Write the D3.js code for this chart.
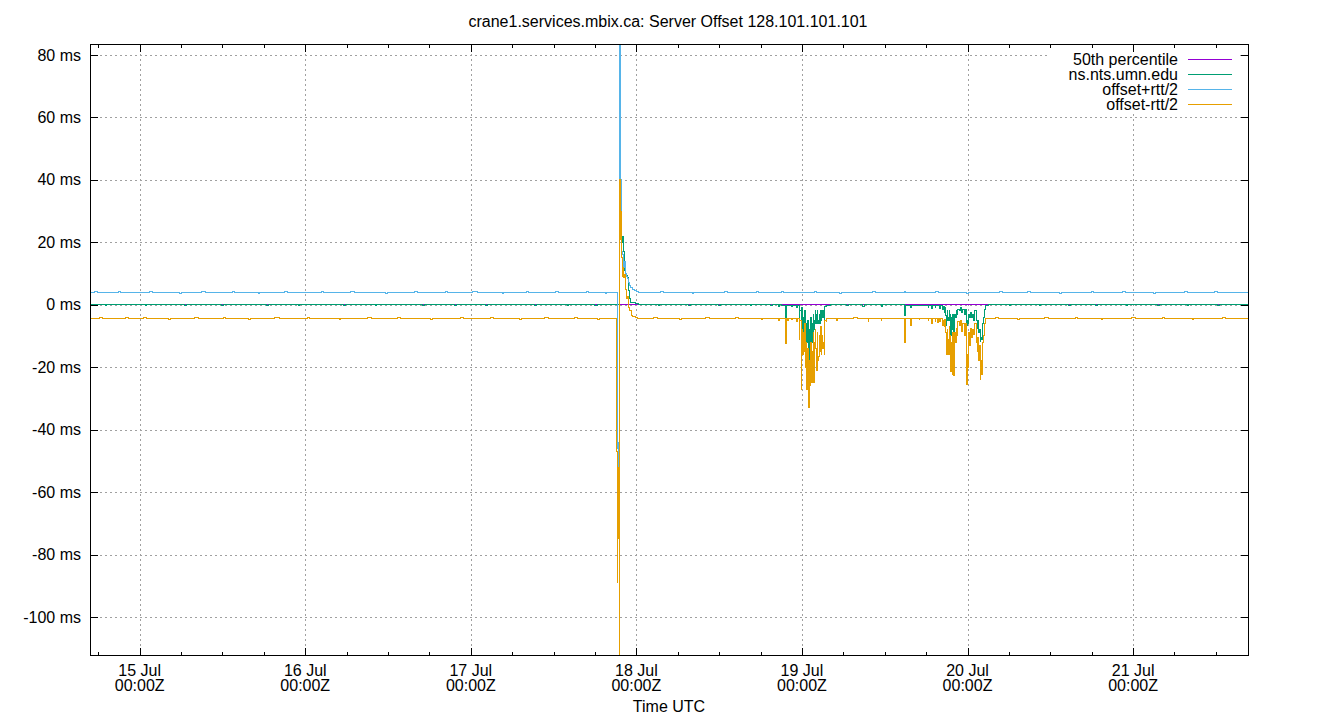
<!DOCTYPE html>
<html><head><meta charset="utf-8">
<script src="https://cdn.jsdelivr.net/npm/d3@7"></script>
<style>
body{margin:0;background:#fff}
text{font-family:"Liberation Sans",Arial,sans-serif;fill:#000}
</style>
</head><body><svg id="chart" width="1340" height="720"></svg>
<script>
// ---------------- data (hours since 15 Jul 00:00Z, offset in ms) ----------------
const chartTitle = "crane1.services.mbix.ca: Server Offset 128.101.101.101";
const xAxisTitle = "Time UTC";
const seriesNames = ["50th percentile", "ns.nts.umn.edu", "offset+rtt/2", "offset-rtt/2"];
const seriesColors = ["#9400d3", "#009e73", "#56b4e9", "#e69f00"];
const hourDomain = [-7.2, 160.8];
const yDomain = [-112.5, 83.5];
const yTicks = [-100, -80, -60, -40, -20, 0, 20, 40, 60, 80];
const xTickHours = [0, 24, 48, 72, 96, 120, 144];
const xTickDays = ["15 Jul", "16 Jul", "17 Jul", "18 Jul", "19 Jul", "20 Jul", "21 Jul"];
const xTickTimes = ["00:00Z", "00:00Z", "00:00Z", "00:00Z", "00:00Z", "00:00Z", "00:00Z"];

const percentile50 = [[-7.2, 0], [160.8, 0]];

const nsNtsUmn = [
  [-7.2,0],[-5.0,-0.3],[-4.8,0],[0.8,-0.3],[1.0,0],[6.5,-0.3],[6.8,0],[11.9,-0.3],[12.1,0],
  [18.4,-0.3],[18.7,0],[23.0,-0.3],[23.2,0],[29.5,-0.3],[29.9,0],[34.2,-0.3],[34.4,0],
  [41.0,-0.3],[41.3,0],[45.7,-0.3],[45.9,0],[50.1,-0.3],[50.4,0],[57.3,-0.3],[57.5,0],
  [62.0,-0.3],[62.2,0],[66.0,-0.3],[66.3,0],
  [69.58,35],[69.75,22],[69.9,20],[70.0,22],[70.12,17],[70.25,11],[70.4,9],[70.55,9.5],[70.7,8.8],
  [70.82,4.5],[70.95,3],[71.05,2],[71.2,0.8],[71.5,0.6],[71.9,0.4],[72.3,0],
  [75.2,-0.3],[75.4,0],[79.6,-0.3],[79.8,0],[83.9,-0.3],[84.2,0],[88.5,-0.3],[88.7,0],[91.5,-0.3],[91.7,0],
  [92.6,-0.5],[92.8,0],[93.1,-0.4],[93.3,-0.2],
  [93.64,-4.3],[93.72,-0.3],[94.5,-0.6],[94.6,-0.2],[95.2,-1],[95.3,-0.3],
  [95.62,-4],[95.7,-2],[95.88,-5],[95.95,-1],[96.05,-8],[96.12,-10.8],[96.2,-4],[96.3,-9],[96.4,-2],
  [96.5,-14],[96.58,-6],[96.66,-10],[96.73,-12],[96.8,-5],[96.9,-13],[96.98,-18],[97.05,-8],[97.12,-12],
  [97.2,-10],[97.3,-4],[97.38,-12],[97.48,-6],[97.55,-9],[97.65,-3],[97.72,-8],[97.82,-5],[97.9,-2],
  [98.0,-6],[98.1,-3],[98.2,-2],[98.3,-6],[98.38,-5],[98.5,-3],[98.6,-6],[98.7,-2],[98.82,-5],[98.9,-2],
  [99.0,-4],[99.1,-2],[99.2,-5],[99.3,-0.5],[99.6,-0.3],[100.2,0],
  [102.5,-0.3],[102.7,0],[104.8,-0.5],[105.0,0],[107.5,-0.5],[107.7,0],
  [110.85,-3.3],[110.95,-0.3],[111.75,-1],[111.85,-0.2],[114.3,-0.8],[114.4,-0.2],[114.8,-1.2],[114.9,-0.2],
  [115.3,-1],[115.4,-0.2],[115.96,-1.2],[116.05,-0.3],
  [116.35,-1.5],[116.45,-0.5],[116.6,-2.5],[116.7,-0.8],[116.8,-3.3],[116.9,-6.5],[116.98,-5],[117.05,-2],
  [117.15,-4],[117.25,-5],[117.35,-2],[117.45,-3],[117.55,-9.7],[117.65,-4],[117.75,-8],[117.85,-3],
  [118.0,-9.7],[118.1,-3],[118.2,-4],[118.35,-2],[118.5,-3],[118.6,-1.5],[118.8,-2],[118.95,-1],
  [119.1,-2.5],[119.25,-1.5],[119.55,-3],[119.65,-1.5],[119.8,-5],[119.9,-6.5],[119.98,-5],[120.08,-6],
  [120.18,-3],[120.3,-4],[120.45,-2.5],[120.55,-4],[120.7,-3],[120.85,-5],[121.0,-2],[121.3,-5],
  [121.4,-7.5],[121.5,-5],[121.6,-9],[121.72,-8],[121.85,-11.8],[121.95,-10.6],[122.05,-11],[122.15,-7],
  [122.22,-6],[122.32,-4],[122.42,-3],[122.5,-1.5],[122.6,-0.2],[123.0,0],
  [126.1,-0.3],[126.3,0],[130.4,-0.3],[130.6,0],[134.7,-0.3],[134.9,0],[138.6,-0.3],[138.9,0],
  [143.0,-0.3],[143.2,0],[147.6,-0.3],[147.8,0],[151.9,-0.3],[152.1,0],[156.3,-0.3],[156.5,0],[160.8,0]
];

const offsetPlusRtt = [
  [-7.2,3.9],[-6.5,4.2],[-6.1,3.9],[-3.1,4.2],[-2.8,3.9],[1.4,4.2],[1.9,3.9],[5.8,3.6],[6.0,3.9],
  [9.0,4.2],[9.6,3.9],[13.5,4.2],[13.8,3.9],[17.2,3.6],[17.4,3.9],[21.0,4.2],[21.5,3.9],
  [26.4,4.2],[26.7,3.9],[30.5,4.2],[31.2,3.9],[35.7,3.6],[35.9,3.9],[39.9,4.2],[40.3,3.9],
  [44.3,4.2],[44.6,3.9],[48.2,4.2],[48.9,3.9],[52.6,3.6],[52.8,3.9],[56.0,4.2],[56.4,3.9],
  [60.3,4.2],[60.7,3.9],[64.8,4.2],[65.1,3.9],[67.5,3.6],[67.7,3.9],
  [69.20,-38],[69.28,-46],[69.36,-52],[69.42,-44],[69.50,95],[69.62,120],[69.72,40],[69.80,24],
  [69.88,17],[70.0,16],[70.12,12],[70.25,14],[70.35,10],[70.5,9],[70.65,8.5],[70.8,7],[71.0,6],
  [71.2,5.5],[71.4,4.8],[71.7,4.5],[72.0,4.2],[72.3,3.9],
  [75.5,4.2],[75.9,3.9],[80.1,3.6],[80.3,3.9],[84.7,4.2],[85.2,3.9],[89.4,4.2],[89.7,3.9],
  [93.0,4.2],[93.3,3.9],[97.8,4.2],[98.1,3.9],[101.5,3.6],[101.7,3.9],[106.2,4.2],[106.6,3.9],
  [110.8,4.2],[111.0,3.9],[115.3,4.2],[115.8,3.9],[119.9,3.6],[120.1,3.9],[124.6,4.2],[125.0,3.9],
  [128.7,4.2],[129.2,3.9],[133.4,3.6],[133.6,3.9],[137.9,4.2],[138.3,3.9],[142.5,4.2],[142.9,3.9],
  [147.0,3.6],[147.2,3.9],[151.4,4.2],[151.9,3.9],[155.8,4.2],[156.2,3.9],[160.8,3.9]
];

const offsetMinusRtt = [
  [-7.2,-4.4],[-5.8,-4.1],[-5.4,-4.4],[-2.0,-4.1],[-1.6,-4.4],[0.5,-4.1],[1.0,-4.4],[4.2,-4.7],[4.4,-4.4],
  [7.9,-4.1],[8.5,-4.4],[12.1,-4.1],[12.4,-4.4],[15.8,-4.7],[16.0,-4.4],[19.6,-4.1],[20.2,-4.4],
  [24.3,-4.1],[24.6,-4.4],[28.9,-4.7],[29.1,-4.4],[33.0,-4.1],[33.6,-4.4],[37.4,-4.1],[37.8,-4.4],
  [42.2,-4.7],[42.4,-4.4],[46.5,-4.1],[47.0,-4.4],[50.8,-4.1],[51.3,-4.4],[55.1,-4.7],[55.3,-4.4],
  [58.7,-4.1],[59.2,-4.4],[63.0,-4.1],[63.5,-4.4],[66.4,-4.7],[66.6,-4.4],
  [69.17,-47],[69.24,-89],[69.28,-60],[69.33,-75],[69.40,-52],[69.46,-70],[69.52,-130],[69.58,40],
  [69.64,25],[69.70,38],[69.76,21],[69.82,30],[69.90,15],[70.0,9],[70.1,12],[70.2,8.6],[70.3,9.6],
  [70.45,5],[70.6,2],[70.75,2.5],[70.9,-1],[71.05,-2],[71.25,-3.4],[71.5,-3.8],[71.8,-4.1],[72.1,-4.4],
  [74.5,-4.1],[75.0,-4.4],[78.3,-4.7],[78.5,-4.4],[82.0,-4.1],[82.6,-4.4],[86.4,-4.1],[86.8,-4.4],
  [90.1,-4.7],[90.3,-4.4],[92.6,-5.0],[92.7,-4.4],
  [93.64,-12.3],[93.72,-4.4],[93.93,-5.2],[94.0,-4.4],[94.5,-4.7],[94.6,-4.4],[95.2,-5.5],[95.3,-4.4],
  [95.62,-11],[95.7,-5],[95.88,-27],[95.95,-8],[96.05,-12],[96.12,-16],[96.2,-9],[96.3,-15],[96.4,-6],
  [96.5,-20],[96.58,-12],[96.66,-17],[96.73,-27],[96.8,-14],[96.9,-27],[96.98,-33],[97.05,-18],
  [97.12,-26],[97.2,-21],[97.3,-12],[97.38,-25],[97.48,-15],[97.55,-22],[97.65,-9],[97.72,-25],
  [97.82,-12],[97.9,-8],[98.0,-14],[98.1,-21],[98.2,-9],[98.3,-18],[98.38,-16.6],[98.5,-10],[98.6,-15],
  [98.7,-7],[98.82,-16],[98.9,-10],[99.0,-14],[99.1,-12],[99.2,-16],[99.3,-5],[99.5,-5.5],[99.6,-4.4],
  [101.0,-5.0],[101.1,-4.4],[103.5,-4.1],[104.0,-4.4],[105.6,-5.5],[105.7,-4.4],[107.5,-5],[107.6,-4.4],
  [110.85,-12],[110.95,-5],[111.05,-4.4],[111.75,-6.5],[111.85,-4.4],[113.0,-4.8],[113.1,-4.4],
  [114.3,-5.2],[114.4,-4.4],[114.8,-6],[114.9,-4.4],[115.3,-5.5],[115.4,-4.4],[115.7,-5.8],[115.8,-4.4],
  [115.96,-5.5],[116.05,-4.4],
  [116.35,-6.5],[116.45,-5],[116.6,-7],[116.7,-4.8],[116.8,-9],[116.9,-14.5],[116.98,-16],[117.05,-8],
  [117.15,-11],[117.25,-16],[117.35,-7],[117.45,-10],[117.55,-21.4],[117.65,-12],[117.75,-22.5],
  [117.85,-9],[118.0,-22.7],[118.1,-9],[118.2,-12],[118.35,-7.5],[118.5,-10],[118.6,-5.5],[118.8,-6.5],
  [118.95,-5],[119.1,-8.5],[119.25,-6],[119.55,-10],[119.65,-6],[119.8,-13],[119.9,-25.6],[119.98,-16],
  [120.08,-20],[120.18,-9],[120.3,-13],[120.45,-7.5],[120.55,-10.5],[120.7,-8],[120.85,-9.5],[121.0,-6],
  [121.3,-12],[121.4,-15],[121.5,-10.6],[121.6,-18],[121.72,-13],[121.85,-24],[121.95,-18],[122.05,-22.5],
  [122.15,-15],[122.22,-12],[122.32,-10],[122.42,-8],[122.5,-6],[122.6,-4.4],
  [124.0,-4.1],[124.5,-4.4],[127.3,-4.7],[127.5,-4.4],[131.2,-4.1],[131.7,-4.4],[135.6,-4.1],[136.0,-4.4],
  [139.4,-4.7],[139.6,-4.4],[143.7,-4.1],[144.3,-4.4],[148.2,-4.1],[148.5,-4.4],[152.6,-4.7],[152.8,-4.4],
  [156.9,-4.1],[157.4,-4.4],[160.8,-4.4]
];

const seriesData = [percentile50, nsNtsUmn, offsetPlusRtt, offsetMinusRtt];

// ---------------- layout ----------------
const W = 1340, H = 720;
const plot = {left: 90, right: 1249, top: 44, bottom: 656};
const START = Date.UTC(2024, 6, 15, 0, 0, 0);
const toDate = h => new Date(START + h * 3600e3);

const svg = d3.select("#chart");
svg.append("rect").attr("width", W).attr("height", H).attr("fill", "#fff");

const x = d3.scaleUtc().domain(hourDomain.map(toDate)).range([plot.left, plot.right]);
const y = d3.scaleLinear().domain(yDomain).range([plot.bottom, plot.top]);

// grid
const grid = svg.append("g").attr("stroke", "#a0a0a0").attr("stroke-width", 1)
  .attr("stroke-dasharray", "2,3").attr("shape-rendering", "crispEdges");
grid.selectAll("line.gy").data(yTicks).join("line").attr("class", "gy")
  .attr("x1", plot.left).attr("x2", plot.right)
  .attr("y1", d => Math.round(y(d)) + 0.5).attr("y2", d => Math.round(y(d)) + 0.5);
grid.selectAll("line.gx").data(xTickHours).join("line").attr("class", "gx")
  .attr("y1", plot.top).attr("y2", plot.bottom)
  .attr("x1", d => Math.round(x(toDate(d))) + 0.5).attr("x2", d => Math.round(x(toDate(d))) + 0.5);

// clip
svg.append("clipPath").attr("id", "clip").append("rect")
  .attr("x", plot.left).attr("y", plot.top)
  .attr("width", plot.right - plot.left).attr("height", plot.bottom - plot.top);

const line = d3.line().x(d => x(toDate(d[0]))).y(d => y(d[1])).curve(d3.curveStepAfter);
const gSeries = svg.append("g").attr("clip-path", "url(#clip)");
seriesData.forEach((s, i) => {
  gSeries.append("path").datum(s).attr("d", line)
    .attr("fill", "none").attr("stroke", seriesColors[i]).attr("stroke-width", 1)
    .attr("shape-rendering", "crispEdges");
});

// legend (opaque key)
const legend = svg.append("g");
legend.append("rect").attr("x", 1049).attr("y", 50).attr("width", 189).attr("height", 61).attr("fill", "#fff");
seriesNames.forEach((name, i) => {
  const ly = 59.5 + i * 15;
  legend.append("text").attr("x", 1178).attr("y", ly).attr("dy", "0.35em")
    .attr("text-anchor", "end").attr("font-size", 16).text(name);
  legend.append("line").attr("x1", 1188).attr("x2", 1232).attr("y1", ly).attr("y2", ly)
    .attr("stroke", seriesColors[i]).attr("stroke-width", 1).attr("shape-rendering", "crispEdges");
});

// axes
const tickDates = xTickHours.map(toDate);
const minorDates = d3.range(-6, 161, 6).filter(h => h % 24 !== 0).map(toDate);
const axB = svg.append("g").attr("transform", `translate(0,${plot.bottom})`)
  .call(d3.axisBottom(x).tickValues(tickDates).tickSize(-8).tickFormat(""));
const axBm = svg.append("g").attr("transform", `translate(0,${plot.bottom})`)
  .call(d3.axisBottom(x).tickValues(minorDates).tickSize(-4).tickFormat(""));
const axT = svg.append("g").attr("transform", `translate(0,${plot.top})`)
  .call(d3.axisTop(x).tickValues(tickDates).tickSize(-8).tickFormat(""));
const axTm = svg.append("g").attr("transform", `translate(0,${plot.top})`)
  .call(d3.axisTop(x).tickValues(minorDates).tickSize(-4).tickFormat(""));
const axL = svg.append("g").attr("transform", `translate(${plot.left},0)`)
  .call(d3.axisLeft(y).tickValues(yTicks).tickSize(-8).tickPadding(9).tickFormat(d => `${d} ms`));
const axR = svg.append("g").attr("transform", `translate(${plot.right},0)`)
  .call(d3.axisRight(y).tickValues(yTicks).tickSize(-8).tickFormat(""));
[axB, axBm, axT, axTm, axL, axR].forEach(g => {
  g.select(".domain").remove();
  g.selectAll("line").attr("stroke", "#000").attr("shape-rendering", "crispEdges");
});
axL.selectAll("text").attr("font-size", 16).attr("font-family", '"Liberation Sans",Arial,sans-serif').attr("fill", "#000");

// x labels (two lines)
const xl = svg.append("g");
xTickHours.forEach((h, i) => {
  const t = xl.append("text").attr("text-anchor", "middle").attr("font-size", 16)
    .attr("x", x(toDate(h))).attr("y", 676);
  t.append("tspan").attr("x", x(toDate(h))).text(xTickDays[i]);
  t.append("tspan").attr("x", x(toDate(h))).attr("dy", 15).text(xTickTimes[i]);
});

// border
svg.append("rect").attr("x", plot.left + 0.5).attr("y", plot.top + 0.5)
  .attr("width", plot.right - plot.left - 1).attr("height", plot.bottom - plot.top - 1)
  .attr("fill", "none").attr("stroke", "#000").attr("stroke-width", 1).attr("shape-rendering", "crispEdges");

// titles
svg.append("text").attr("x", 668).attr("y", 27).attr("text-anchor", "middle").attr("font-size", 16).text(chartTitle);
svg.append("text").attr("x", 669).attr("y", 712).attr("text-anchor", "middle").attr("font-size", 16).text(xAxisTitle);
</script></body></html>
